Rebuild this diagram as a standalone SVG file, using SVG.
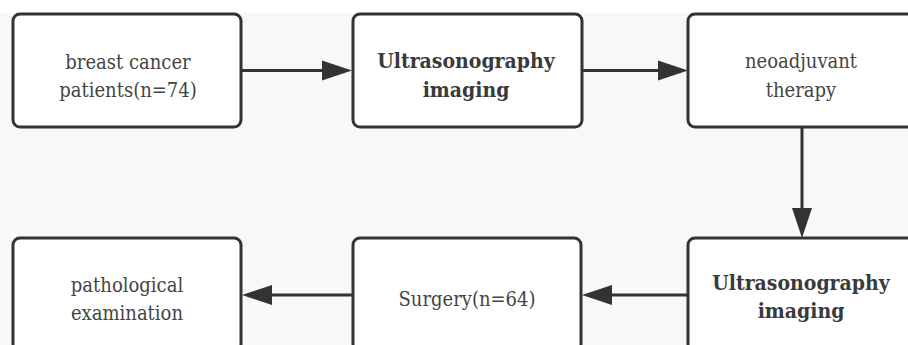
<svg xmlns="http://www.w3.org/2000/svg" width="908" height="345" viewBox="0 0 908 345">
<style>
.box{fill:#ffffff;stroke:#333333;stroke-width:3}
.t{font-family:'DejaVu Serif Condensed','DejaVu Serif',serif;font-stretch:condensed;font-size:20px;fill:#444444;text-anchor:middle}
.b{font-weight:bold;font-size:21px;fill:#3a3a3a}
.ln{stroke:#333333;stroke-width:3;fill:none}
.ah{fill:#333333}
</style>
<rect x="0" y="0" width="908" height="345" fill="#f8f8f8"/>
<rect x="0" y="0" width="908" height="13" fill="#ffffff"/>
<g id="connectors">
<line class="ln" x1="241" y1="70.5" x2="324" y2="70.5"/>
<polygon class="ah" points="352,70.5 322,60.5 322,80.5"/>
<line class="ln" x1="582" y1="70.5" x2="660" y2="70.5"/>
<polygon class="ah" points="688,70.5 658,60.5 658,80.5"/>
<line class="ln" x1="802" y1="127" x2="802" y2="210"/>
<polygon class="ah" points="802,238 792,208 812,208"/>
<line class="ln" x1="688" y1="295" x2="610" y2="295"/>
<polygon class="ah" points="582,295 612,285 612,305"/>
<line class="ln" x1="353" y1="295" x2="270" y2="295"/>
<polygon class="ah" points="242,295 272,285 272,305"/>
</g>
<g id="n1">
<rect class="box" x="13" y="14" width="228" height="113" rx="7"/>
<text class="t" x="128" y="69">breast cancer</text>
<text class="t" x="128" y="97">patients(n=74)</text>
</g>
<g id="n2">
<rect class="box" x="353" y="14" width="229" height="113" rx="7"/>
<text class="t b" x="466" y="68">Ultrasonography</text>
<text class="t b" x="466" y="97">imaging</text>
</g>
<g id="n3">
<rect class="box" x="688" y="14" width="229" height="113" rx="7"/>
<text class="t" x="801" y="68">neoadjuvant</text>
<text class="t" x="801" y="97">therapy</text>
</g>
<g id="n4">
<rect class="box" x="688" y="238" width="229" height="113" rx="7"/>
<text class="t b" x="801" y="290">Ultrasonography</text>
<text class="t b" x="801" y="318">imaging</text>
</g>
<g id="n5">
<rect class="box" x="353" y="238" width="228" height="113" rx="7"/>
<text class="t" x="467" y="306">Surgery(n=64)</text>
</g>
<g id="n6">
<rect class="box" x="13" y="238" width="228" height="113" rx="7"/>
<text class="t" x="127" y="292">pathological</text>
<text class="t" x="127" y="320">examination</text>
</g>
</svg>
